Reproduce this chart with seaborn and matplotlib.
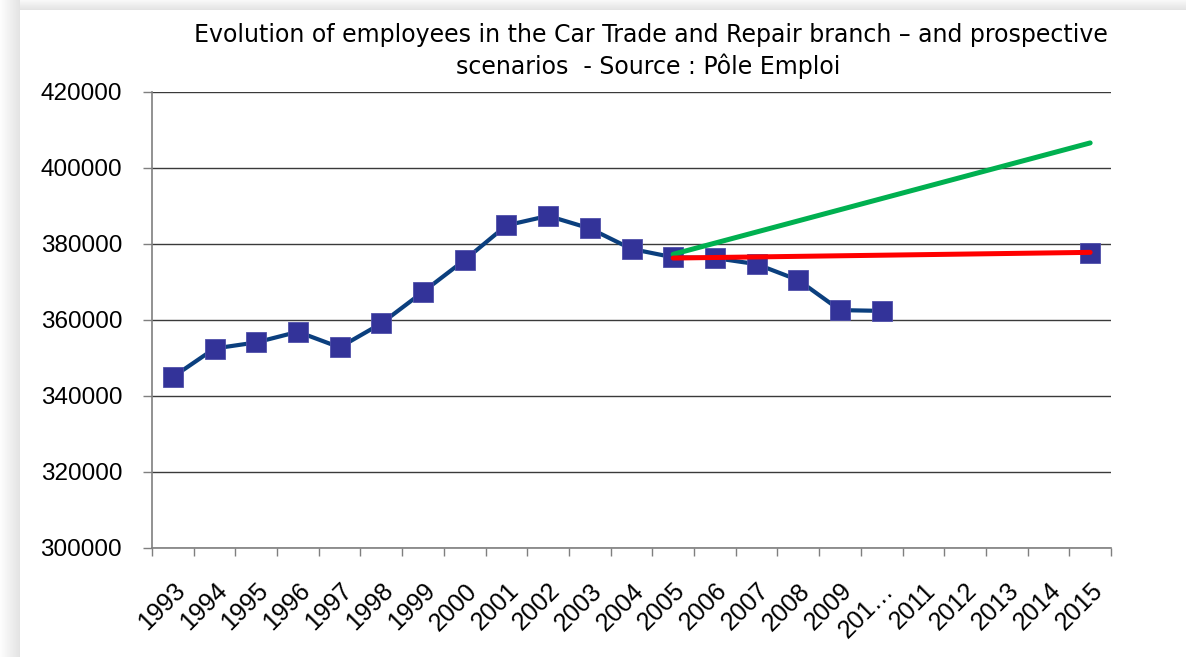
import numpy as np
import pandas as pd
import matplotlib
matplotlib.use("Agg")
import matplotlib.pyplot as plt
import seaborn as sns

# --- Data ---
categories = ["1993", "1994", "1995", "1996", "1997", "1998", "1999", "2000",
              "2001", "2002", "2003", "2004", "2005", "2006", "2007", "2008",
              "2009", "201\u2026", "2011", "2012", "2013", "2014", "2015"]
observed_years = ["1993", "1994", "1995", "1996", "1997", "1998", "1999", "2000",
                  "2001", "2002", "2003", "2004", "2005", "2006", "2007", "2008",
                  "2009", "201\u2026"]
observed_values = [345000, 352500, 354100, 356900, 352800, 359100, 367400, 375800,
                   384900, 387400, 384100, 378700, 376500, 376300, 374700, 370500,
                   362600, 362400]
target_years = ["2015"]
target_values = [377600]
green_years = ["2005", "2015"]
green_values = [377300, 406600]
red_years = ["2005", "2015"]
red_values = [376300, 377800]

title_lines = ["Evolution of employees in the Car Trade and Repair branch \u2013 and prospective",
               "scenarios  - Source : P\u00f4le Emploi"]

pos = {c: i for i, c in enumerate(categories)}
obs = pd.DataFrame({"x": [pos[c] for c in observed_years], "y": observed_values})
tgt = pd.DataFrame({"x": [pos[c] for c in target_years], "y": target_values})
grn = pd.DataFrame({"x": [pos[c] for c in green_years], "y": green_values})
red = pd.DataFrame({"x": [pos[c] for c in red_years], "y": red_values})

# --- Figure ---
sns.set_style("white")
plt.rcParams["text.color"] = "black"
plt.rcParams["xtick.color"] = "black"
plt.rcParams["ytick.color"] = "black"

W, H = 1186, 657
fig = plt.figure(figsize=(W / 100, H / 100), dpi=100)

# light grey frame shadow on the left and top
bg = fig.add_axes([0, 0, 1, 1], zorder=-5)
shade = np.ones((H, W))
ramp_l = np.linspace(0.99, 0.89, 20)
shade[:, :20] = ramp_l[None, :]
ramp_t = np.linspace(0.97, 0.89, 10)
shade[:10, 20:] = ramp_t[:, None]
bg.imshow(shade, cmap="gray", vmin=0, vmax=1, aspect="auto", interpolation="nearest")
bg.axis("off")

ax = fig.add_axes([152 / W, 1 - 548 / H, (1111 - 152) / W, (548 - 92) / H])
ax.set_facecolor("none")

sns.lineplot(data=obs, x="x", y="y", ax=ax, color="#0b3f7e", linewidth=3.0,
             marker="s", markersize=14.5, markerfacecolor="#333399",
             markeredgecolor="#5050aa", markeredgewidth=0.6, zorder=3)
sns.lineplot(data=tgt, x="x", y="y", ax=ax, color="#0b3f7e", linewidth=0,
             marker="s", markersize=14.5, markerfacecolor="#333399",
             markeredgecolor="#5050aa", markeredgewidth=0.6, zorder=3)
sns.lineplot(data=grn, x="x", y="y", ax=ax, color="#00b050", linewidth=3.6, zorder=4)
sns.lineplot(data=red, x="x", y="y", ax=ax, color="#ff0000", linewidth=3.6, zorder=4)

ax.set_xlim(-0.5, len(categories) - 0.5)
ax.set_ylim(300000, 420000)
ax.set_yticks(np.arange(300000, 420001, 20000))
ax.set_yticklabels([str(v) for v in range(300000, 420001, 20000)])
ax.grid(axis="y", color="#3a3a3a", linewidth=1.0)
ax.set_axisbelow(True)

# category axis: ticks between categories, labels centred
ax.set_xticks(np.arange(-0.5, len(categories), 1.0))
ax.set_xticklabels([])
ax.set_xticks(np.arange(len(categories)), minor=True)
ax.set_xticklabels(categories, minor=True, rotation=45, ha="right",
                   rotation_mode="anchor")
ax.tick_params(axis="x", which="major", direction="out", length=5.5,
               color="#7f7f7f", width=1, bottom=True)
ax.tick_params(axis="x", which="minor", length=0, pad=22, labelsize=18,
               labelcolor="black")
ax.tick_params(axis="y", direction="out", length=6.5, color="#7f7f7f",
               width=1, pad=15, labelsize=17.5, left=True, labelcolor="black")
for lab in ax.get_xticklabels(minor=True) + ax.get_yticklabels():
    lab.set_family("Liberation Sans")

for s in ["top", "right"]:
    ax.spines[s].set_visible(False)
for s in ["left", "bottom"]:
    ax.spines[s].set_color("#7f7f7f")
    ax.spines[s].set_linewidth(1.2)
ax.set_xlabel("")
ax.set_ylabel("")

fig.text(651 / W, 1 - 35 / H, title_lines[0], ha="center", va="center",
         fontsize=17, family="DejaVu Sans", color="black")
fig.text(648 / W, 1 - 66 / H, title_lines[1], ha="center", va="center",
         fontsize=17, family="DejaVu Sans", color="black")

fig.savefig("out.png", dpi=100)
